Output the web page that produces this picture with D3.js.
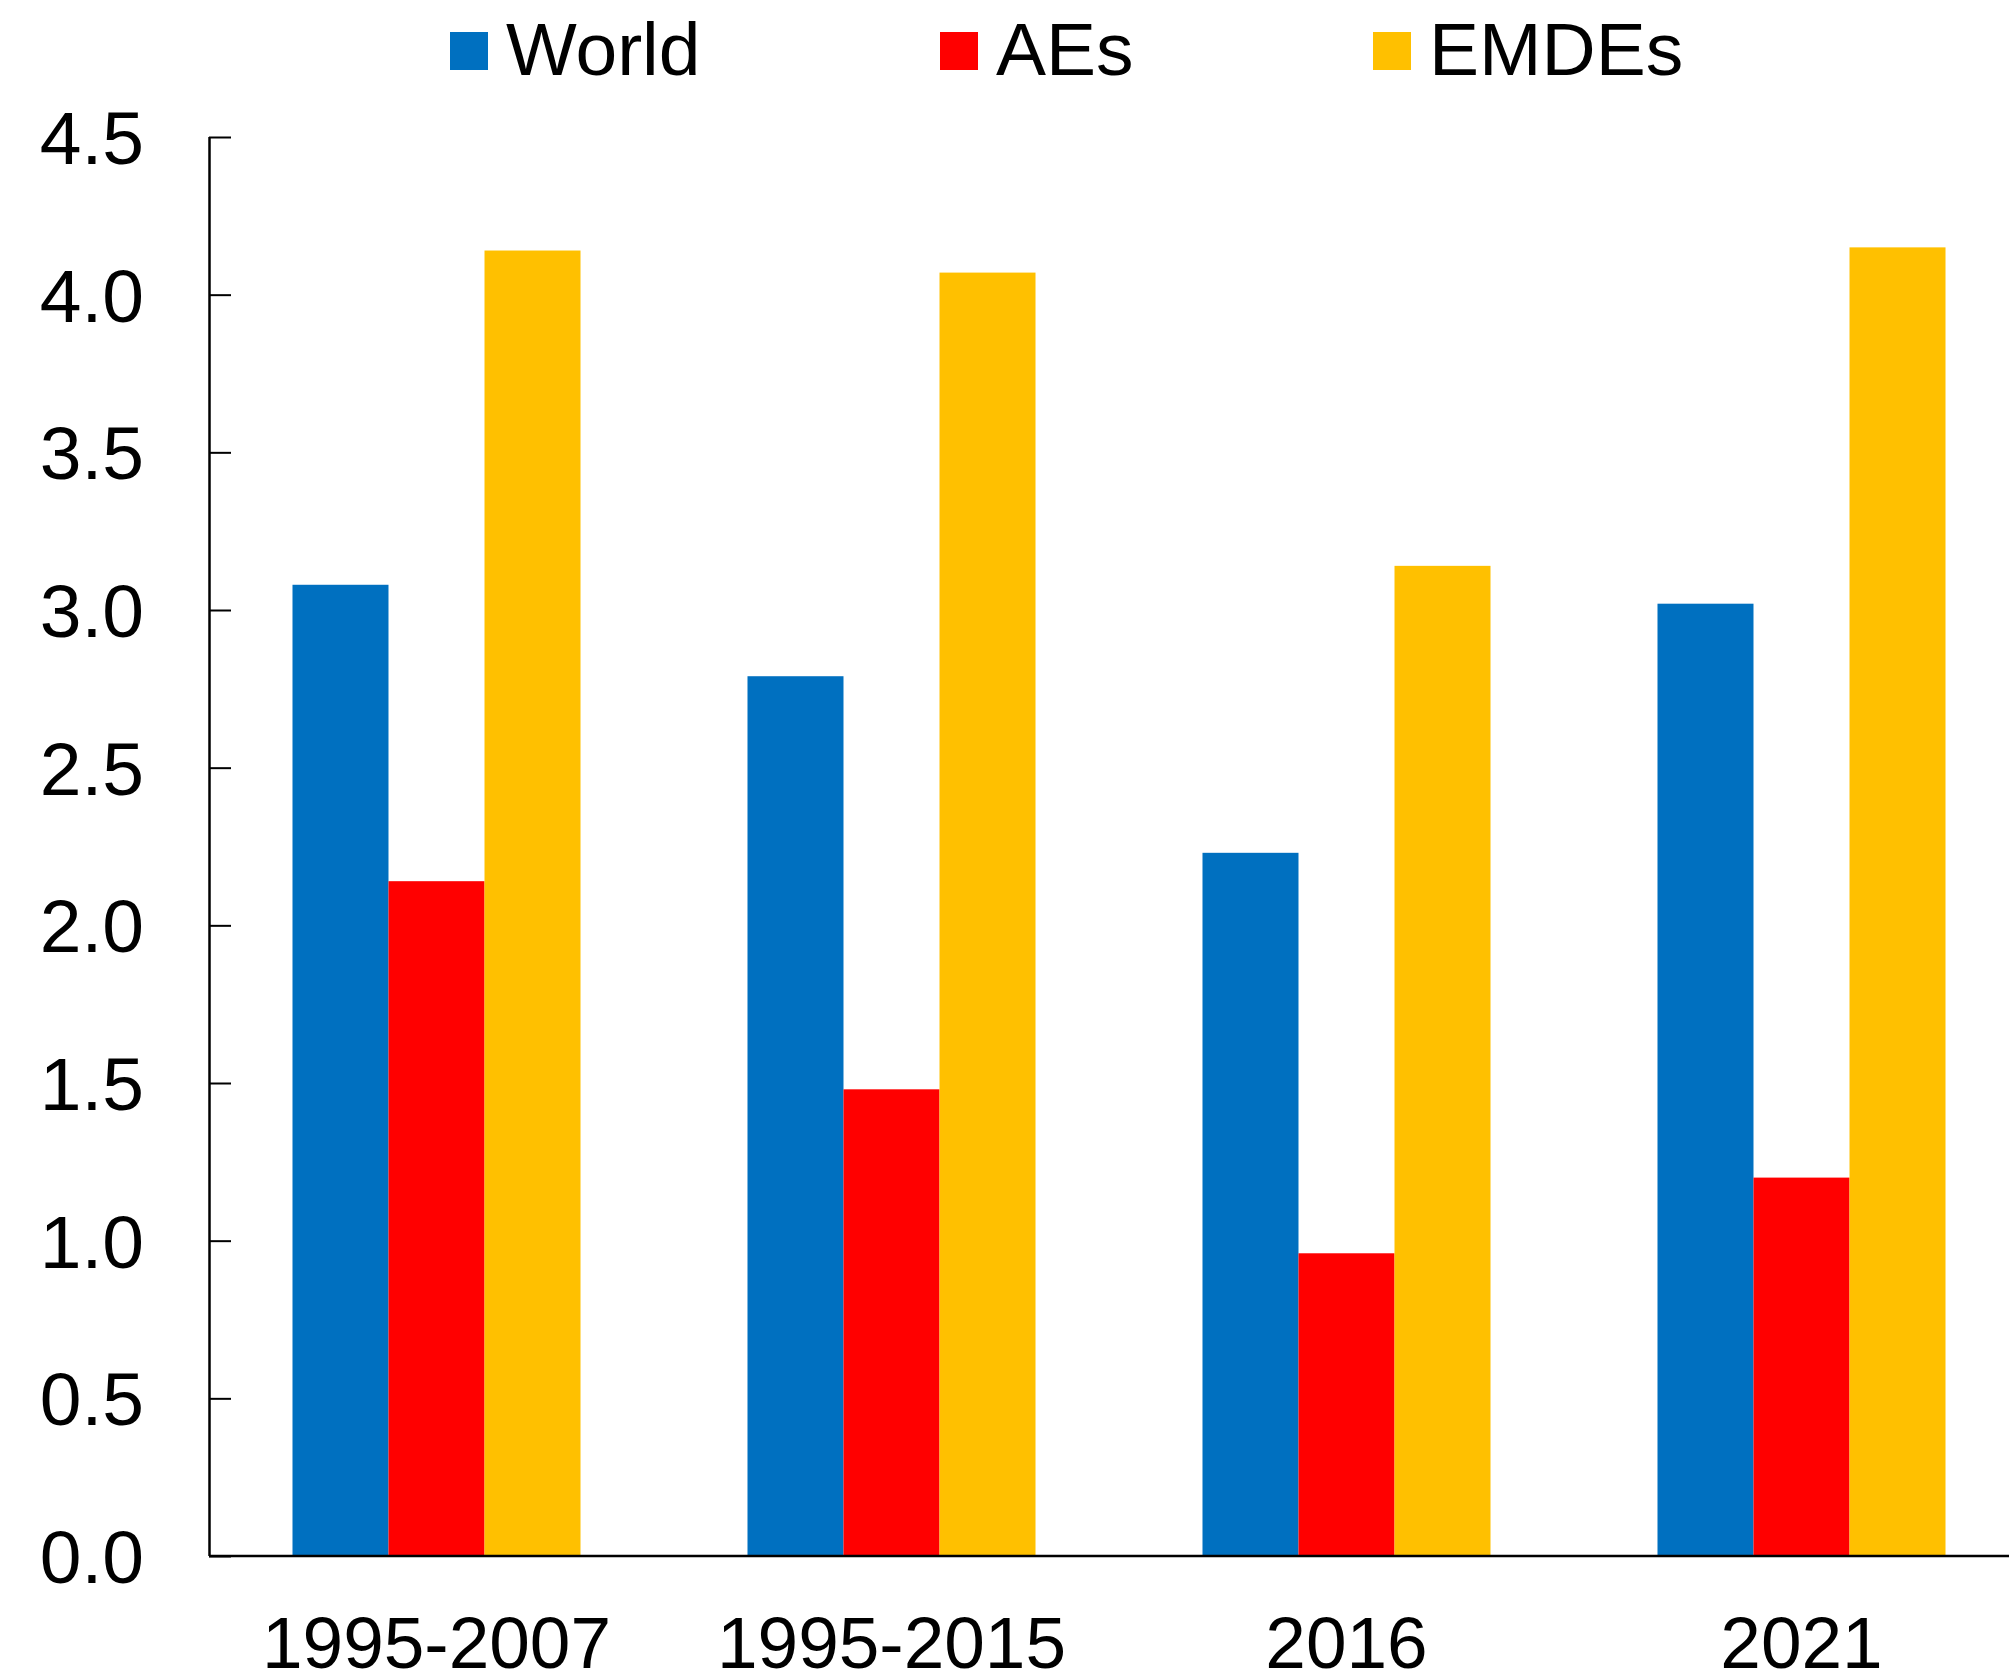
<!DOCTYPE html>
<html>
<head>
<meta charset="utf-8">
<script src="https://cdn.jsdelivr.net/npm/d3@7"></script>
<style>
  html, body { margin: 0; padding: 0; background: #fff; }
  svg { display: block; }
  text { font-family: "Liberation Sans", Arial, sans-serif; fill: #000; }
</style>
</head>
<body>
<svg id="chart" width="2009" height="1680"></svg>
<script>
// Categories and series
const periods = ["1995-2007", "1995-2015", "2016", "2021"];
const seriesNames = ["World", "AEs", "EMDEs"];
const seriesColors = ["#0070C0", "#FF0000", "#FFC000"];
const worldValues = [3.08, 2.79, 2.23, 3.02];
const aesValues = [2.14, 1.48, 0.96, 1.20];
const emdesValues = [4.14, 4.07, 3.14, 4.15];
const yTicks = [0, 0.5, 1, 1.5, 2, 2.5, 3, 3.5, 4, 4.5];

const seriesValues = [worldValues, aesValues, emdesValues];

const svg = d3.select("#chart");

const plot = { left: 209, right: 2029, top: 137, bottom: 1556 };

const x = d3.scaleBand()
  .domain(periods)
  .range([plot.left, plot.right])
  .paddingInner(0.367)
  .paddingOuter(0.1835);

const xInner = d3.scaleBand()
  .domain(seriesNames)
  .range([0, x.bandwidth()]);

const y = d3.scaleLinear()
  .domain([0, 4.5])
  .range([plot.bottom, plot.top]);

// Bars
const rows = periods.map((p, i) => ({
  period: p,
  values: seriesNames.map((s, j) => ({ series: s, value: seriesValues[j][i], color: seriesColors[j] }))
}));

svg.append("g")
  .selectAll("g")
  .data(rows)
  .join("g")
  .attr("transform", d => `translate(${x(d.period)},0)`)
  .selectAll("rect")
  .data(d => d.values)
  .join("rect")
  .attr("x", d => xInner(d.series))
  .attr("width", xInner.bandwidth())
  .attr("y", d => y(d.value))
  .attr("height", d => y(0) - y(d.value))
  .attr("fill", d => d.color);

// Y axis: ticks point into the plot
const yAxis = d3.axisRight(y)
  .tickValues(yTicks)
  .tickSize(22)
  .tickFormat("");

const yg = svg.append("g")
  .attr("transform", `translate(${plot.left},0)`)
  .call(yAxis);
yg.select(".domain").attr("stroke", "#000").attr("stroke-width", 2.5)
  .attr("d", `M0.5,${plot.top}V${plot.bottom}`);
yg.selectAll(".tick line").attr("stroke", "#000").attr("stroke-width", 2);

svg.append("g")
  .selectAll("text")
  .data(yTicks)
  .join("text")
  .attr("x", 144)
  .attr("y", d => y(d))
  .attr("dy", "0.36em")
  .attr("text-anchor", "end")
  .attr("font-size", 75)
  .text(d => d3.format(".1f")(d));

// X axis baseline
svg.append("line")
  .attr("x1", plot.left)
  .attr("x2", 2009)
  .attr("y1", y(0))
  .attr("y2", y(0))
  .attr("stroke", "#000")
  .attr("stroke-width", 2.5);

svg.append("g")
  .selectAll("text")
  .data(periods)
  .join("text")
  .attr("x", d => x(d) + x.bandwidth() / 2)
  .attr("y", 1668)
  .attr("text-anchor", "middle")
  .attr("font-size", 73)
  .text(d => d);

// Legend
const legendX = [450, 940, 1373];
const legend = svg.append("g")
  .selectAll("g")
  .data(seriesNames)
  .join("g")
  .attr("transform", (d, i) => `translate(${legendX[i]},0)`);

legend.append("rect")
  .attr("x", 0)
  .attr("y", 32)
  .attr("width", 38)
  .attr("height", 38)
  .attr("fill", (d, i) => seriesColors[i]);

legend.append("text")
  .attr("x", 56)
  .attr("y", 75)
  .attr("font-size", 75)
  .text(d => d);
</script>
</body>
</html>
